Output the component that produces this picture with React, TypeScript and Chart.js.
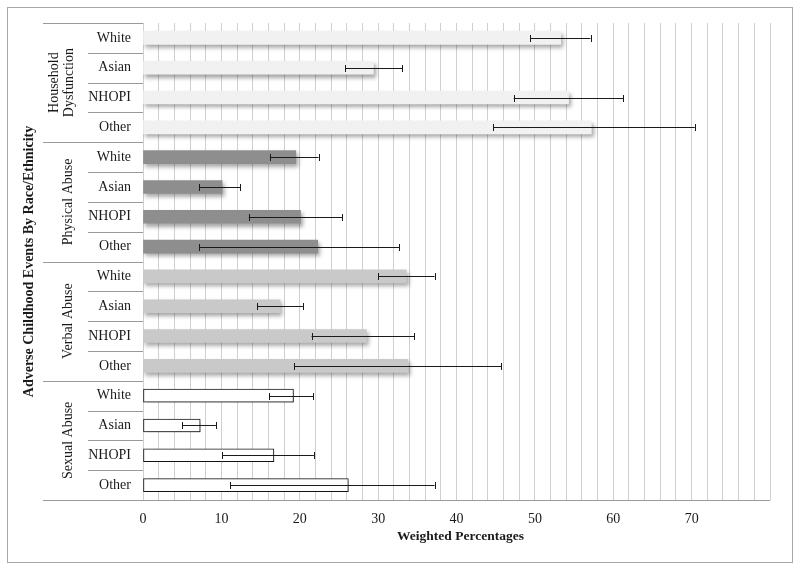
import React, { useEffect, useRef } from "react";
import { Chart, registerables } from "chart.js";

Chart.register(...registerables);

const groups = ["Household Dysfunction", "Physical Abuse", "Verbal Abuse", "Sexual Abuse"];
const groupLines = [["Household", "Dysfunction"], ["Physical Abuse"], ["Verbal Abuse"], ["Sexual Abuse"]];
const categories = ["White", "Asian", "NHOPI", "Other"];

const householdValues = [53.3, 29.4, 54.3, 57.2];
const householdLower = [49.4, 25.8, 47.3, 44.7];
const householdUpper = [57.1, 33.1, 61.3, 70.4];

const physicalValues = [19.5, 10.1, 20.1, 22.3];
const physicalLower = [16.2, 7.2, 13.5, 7.2];
const physicalUpper = [22.4, 12.4, 25.4, 32.7];

const verbalValues = [33.6, 17.5, 28.5, 33.8];
const verbalLower = [30.0, 14.6, 21.5, 19.3];
const verbalUpper = [37.2, 20.4, 34.6, 45.7];

const sexualValues = [19.2, 7.3, 16.7, 26.2];
const sexualLower = [16.1, 5.0, 10.1, 11.1];
const sexualUpper = [21.7, 9.3, 21.8, 37.2];

const groupColors = ["#f1f1f1", "#8e8e8e", "#c9c9c9", "#ffffff"];
const groupBorders = [0, 0, 0, 1];

const xTickLabels = ["0", "10", "20", "30", "40", "50", "60", "70"];

const FONT = "'Liberation Serif', 'Times New Roman', serif";

export default function App() {
  const ref = useRef<HTMLCanvasElement | null>(null);

  useEffect(() => {
    if (!ref.current) return;
    const values = [...householdValues, ...physicalValues, ...verbalValues, ...sexualValues];
    const lower = [...householdLower, ...physicalLower, ...verbalLower, ...sexualLower];
    const upper = [...householdUpper, ...physicalUpper, ...verbalUpper, ...sexualUpper];
    const labels: string[] = [];
    const bg: string[] = [];
    const bw: number[] = [];
    groups.forEach((g, gi) => {
      categories.forEach((c) => {
        labels.push(g + " | " + c);
        bg.push(groupColors[gi]);
        bw.push(groupBorders[gi]);
      });
    });

    const plugin = {
      id: "custom",
      beforeDatasetsDraw(chart: any) {
        const ctx = chart.ctx;
        ctx.save();
        ctx.shadowColor = "rgba(0,0,0,0.35)";
        ctx.shadowBlur = 4;
        ctx.shadowOffsetX = 2;
        ctx.shadowOffsetY = 3;
      },
      afterDatasetsDraw(chart: any) {
        const ctx = chart.ctx;
        ctx.restore();
        const xs = chart.scales.x;
        const ys = chart.scales.y;
        ctx.save();
        ctx.strokeStyle = "#1a1a1a";
        ctx.lineWidth = 1;
        for (let i = 0; i < values.length; i++) {
          const y = Math.round(ys.getPixelForValue(i)) + 0.5;
          const x1 = xs.getPixelForValue(lower[i]);
          const x2 = xs.getPixelForValue(upper[i]);
          ctx.beginPath();
          ctx.moveTo(x1, y);
          ctx.lineTo(x2, y);
          ctx.moveTo(Math.round(x1) + 0.5, y - 3.5);
          ctx.lineTo(Math.round(x1) + 0.5, y + 3.5);
          ctx.moveTo(Math.round(x2) + 0.5, y - 3.5);
          ctx.lineTo(Math.round(x2) + 0.5, y + 3.5);
          ctx.stroke();
        }
        ctx.restore();
      },
      afterDraw(chart: any) {
        const ctx = chart.ctx;
        const ca = chart.chartArea;
        const ys = chart.scales.y;
        ctx.save();
        // outer border
        ctx.strokeStyle = "#a8a8a8";
        ctx.lineWidth = 1;
        ctx.strokeRect(7.5, 7.5, 785, 555);
        // table lines
        ctx.strokeStyle = "#9a9a9a";
        const n = values.length;
        const rowH = (ca.bottom - ca.top) / n;
        ctx.beginPath();
        for (let i = 0; i <= n; i++) {
          const y = Math.round(ca.top + i * rowH) + 0.5;
          const startX = i % 4 === 0 ? 43 : 88;
          ctx.moveTo(startX, y);
          ctx.lineTo(i === n ? ca.right : ca.left, y);
        }
        ctx.stroke();
        // category labels
        ctx.fillStyle = "#1a1a1a";
        ctx.font = "14px " + FONT;
        ctx.textAlign = "right";
        ctx.textBaseline = "middle";
        for (let i = 0; i < n; i++) {
          ctx.fillText(categories[i % 4], 131, ys.getPixelForValue(i));
        }
        // group labels
        groups.forEach((g, gi) => {
          const cy = (ys.getPixelForValue(gi * 4) + ys.getPixelForValue(gi * 4 + 3)) / 2;
          const lines = groupLines[gi];
          ctx.save();
          ctx.translate(lines.length === 2 ? 62 : 68, cy);
          ctx.rotate(-Math.PI / 2);
          ctx.textAlign = "center";
          ctx.textBaseline = "middle";
          ctx.font = "14px " + FONT;
          lines.forEach((l, li) => {
            ctx.fillText(l, 0, (li - (lines.length - 1) / 2) * 14.5);
          });
          ctx.restore();
        });
        // y title
        ctx.save();
        ctx.translate(29, (ca.top + ca.bottom) / 2);
        ctx.rotate(-Math.PI / 2);
        ctx.textAlign = "center";
        ctx.textBaseline = "middle";
        ctx.font = "bold 14px " + FONT;
        ctx.fillText("Adverse Childhood Events By Race/Ethnicity", 0, 0);
        ctx.restore();
        // x title
        ctx.textAlign = "center";
        ctx.textBaseline = "middle";
        ctx.font = "bold 13.5px " + FONT;
        ctx.fillText("Weighted Percentages", (ca.left + ca.right) / 2 + 4, 537);
        ctx.restore();
      },
    };

    const chart = new Chart(ref.current, {
      type: "bar",
      data: {
        labels,
        datasets: [
          {
            data: values,
            backgroundColor: bg,
            borderColor: "#1a1a1a",
            borderWidth: bw,
            barThickness: 13,
            borderSkipped: false,
          } as any,
        ],
      },
      options: {
        indexAxis: "y",
        responsive: false,
        animation: false,
        layout: { padding: { left: 0, top: 23, right: 30, bottom: 0 } },
        plugins: { legend: { display: false }, tooltip: { enabled: false } },
        scales: {
          x: {
            min: 0,
            max: 80,
            afterFit: (s: any) => {
              s.height = 70;
            },
            grid: { color: "#d0d0d0", drawTicks: false, lineWidth: 1 },
            border: { display: false },
            ticks: {
              stepSize: 2,
              autoSkip: false,
              maxRotation: 0,
              padding: 11,
              color: "#1a1a1a",
              font: { family: FONT, size: 14 },
              callback: (v: any) => {
                const s = String(v);
                return xTickLabels.includes(s) ? s : "";
              },
            },
          },
          y: {
            afterFit: (s: any) => {
              s.width = 143;
            },
            grid: { display: false },
            border: { display: false },
            ticks: { display: false },
          },
        },
      } as any,
      plugins: [plugin],
    });
    return () => chart.destroy();
  }, []);

  return (
    <div style={{ position: "fixed", left: 0, top: 0, width: 800, height: 570, background: "#fff" }}>
      <canvas ref={ref} width={800} height={570} />
    </div>
  );
}
